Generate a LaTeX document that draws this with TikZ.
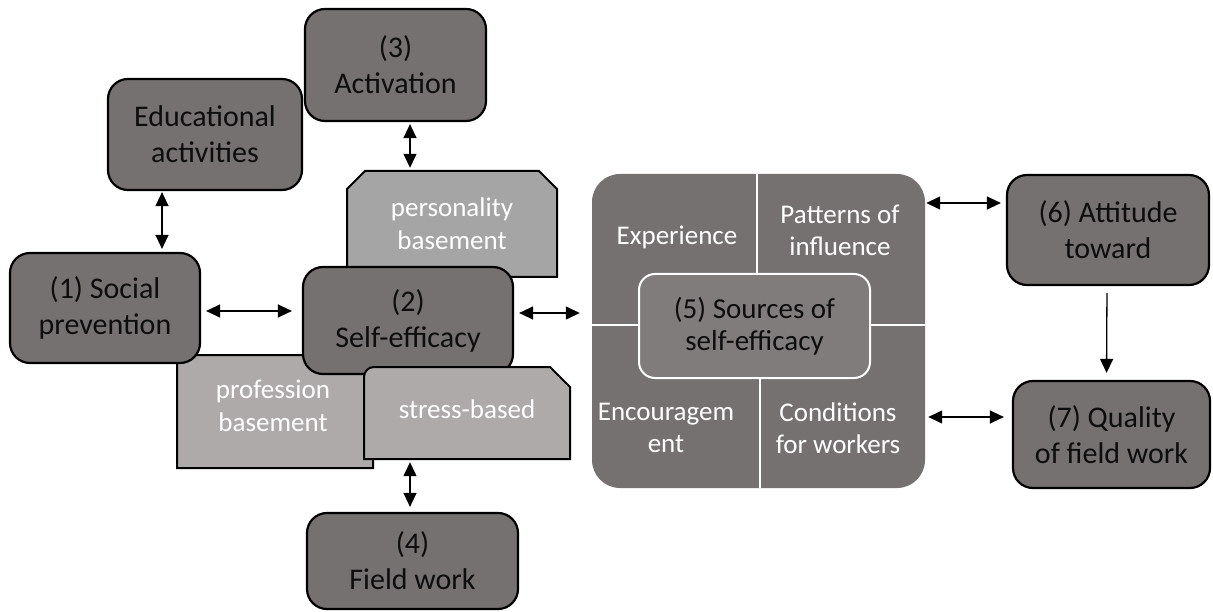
\documentclass[tikz,border=0pt]{standalone}
\usepackage{fontspec}
\setmainfont{Carlito}
\usetikzlibrary{arrows.meta}
\definecolor{darkbox}{HTML}{767171}
\definecolor{lightA}{HTML}{A5A5A5}
\definecolor{lightB}{HTML}{AEAAAA}
\definecolor{centerbox}{HTML}{807C7C}
\begin{document}
\begin{tikzpicture}[x=1pt,y=-1pt,
 dbox/.style={draw=black, line width=2.2pt, fill=darkbox, rounded corners=20pt, align=center, text=black!95, font=\fontsize{30}{36}\selectfont, inner sep=0pt},
 lshape/.style={draw=black, line width=2pt},
 ltext/.style={text=white, align=center, font=\fontsize{27}{33}\selectfont, inner sep=0pt},
 qtext/.style={text=white, align=center, font=\fontsize{27}{32}\selectfont},
 dbl/.style={{Triangle[length=14pt,width=13pt]}-{Triangle[length=14pt,width=13pt]}, line width=1.3pt},
 sgl/.style={-{Triangle[length=14pt,width=13pt]}, line width=1.3pt}]
\useasboundingbox (0,0) rectangle (1213,612);

% personality basement
\filldraw[lshape, fill=lightA] (347,277) -- (347,189) -- (365,171) -- (539,171) -- (557,189) -- (557,277) -- cycle;
\node[ltext, minimum width=210pt, minimum height=106pt] (pers) at (452,224) {personality\\basement};

% profession basement
\filldraw[lshape, fill=lightB] (177,468) -- (177,363) arc[start angle=180,end angle=270,radius=8] -- (353,355) -- (373,375) -- (373,468) -- cycle;
\node[ltext] (prof) at (273,406) {profession\\basement};

% (1) and (2)
\node[dbox, minimum width=190pt, minimum height=110pt] (soc) at (105,308) {(1) Social\\prevention};
\node[dbox, minimum width=210pt, minimum height=107pt] (se) at (408,320.5) {(2)\\Self-efficacy};

% stress-based
\filldraw[lshape, fill=lightB] (364,459) -- (364,377) arc[start angle=180,end angle=270,radius=10] -- (550,367) -- (570,387) -- (570,459) -- cycle;
\node[ltext, minimum width=206pt, minimum height=92pt] (stress) at (467,413) {\raisebox{8pt}{stress-based}};

% other dark boxes
\node[dbox, minimum width=194pt, minimum height=111pt] (edu) at (205,134.5) {Educational\\activities};
\node[dbox, minimum width=181pt, minimum height=112pt] (act) at (395.5,65) {(3)\\Activation};
\node[dbox, minimum width=211pt, minimum height=96pt] (fw) at (412.5,561) {(4)\\Field work};
\node[dbox, minimum width=202pt, minimum height=110pt] (att) at (1108,230) {(6) Attitude\\toward};
\node[dbox, minimum width=197pt, minimum height=107pt] (qual) at (1111.5,434.5) {(7) Quality\\of field work};

% (5) matrix
\node[fill=darkbox, rounded corners=28pt, minimum width=333pt, minimum height=314pt, inner sep=0pt] (big) at (758.5,331) {};
\draw[white, line width=2pt] (757,174) -- (757,325) (760,325) -- (760,488) (592,325) -- (925,325);
\node[qtext] (q1) at (677,237) {Experience};
\node[qtext] (q2) at (840,230) {Patterns of\\influence};
\node[qtext] (q3) at (666,428) {Encouragem\\ent};
\node[qtext] (q4) at (838,428) {Conditions\\for workers};
\node[draw=white, line width=2pt, fill=centerbox, rounded corners=16pt, minimum width=231pt, minimum height=104pt, inner sep=0pt, align=center, text=black!95, font=\fontsize{29}{32}\selectfont] (src) at (754.5,326) {(5) Sources of\\self-efficacy};

% connectors
\draw[dbl, shorten <=1pt, shorten >=3pt] ([xshift=-43pt]edu.south) -- ([xshift=57pt]soc.north);
\draw[dbl, shorten <=2pt, shorten >=3pt] ([xshift=14.5pt]act.south) -- ([xshift=-42pt]pers.north);
\draw[dbl, shorten <=5pt, shorten >=10pt] ([yshift=-3pt]soc.east) -- ([yshift=9.5pt]se.west);
\draw[dbl, shorten <=5pt, shorten >=12pt] ([yshift=7.5pt]se.east) -- ([yshift=18pt]big.west);
\draw[dbl, shorten <=3pt, shorten >=5pt] ([xshift=-57pt]stress.south) -- ([xshift=-2.5pt]fw.north);
\draw[dbl, shorten <=1pt, shorten >=5pt] ([yshift=128pt]big.east) -- ([yshift=27pt]att.west);
\draw[dbl, shorten <=3pt, shorten >=8pt] ([yshift=-86pt]big.east) -- ([yshift=17.5pt]qual.west);
\draw[sgl, shorten <=7pt, shorten >=7pt] ([xshift=-1pt]att.south) -- ([xshift=-5pt]qual.north);
\end{tikzpicture}
\end{document}
